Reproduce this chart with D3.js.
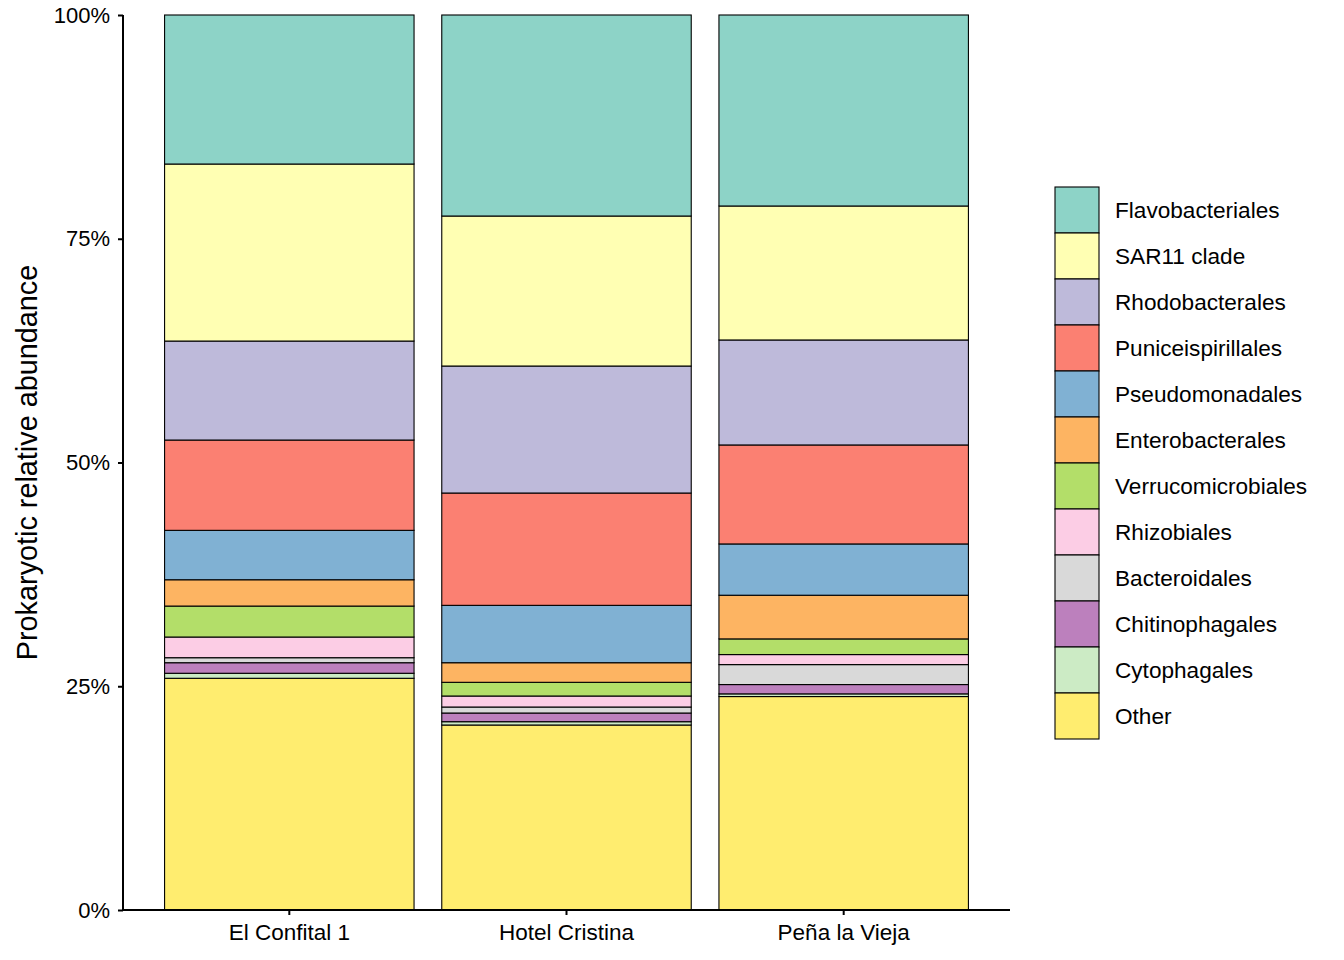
<!DOCTYPE html>
<html>
<head>
<meta charset="utf-8">
<script src="https://cdn.jsdelivr.net/npm/d3@7"></script>
<style>
  body { margin: 0; background: #fff; }
  text { font-family: "Liberation Sans", Arial, Helvetica, sans-serif; fill: #000; }
</style>
</head>
<body>
<div id="chart"></div>
<script>
// sample sites
var sites = ["El Confital 1", "Hotel Cristina", "Peña la Vieja"];

// taxa in legend order (top of stack first)
var taxa = ["Flavobacteriales", "SAR11 clade", "Rhodobacterales", "Puniceispirillales",
    "Pseudomonadales", "Enterobacterales", "Verrucomicrobiales", "Rhizobiales",
    "Bacteroidales", "Chitinophagales", "Cytophagales", "Other"];

// relative abundance (%) per site, same order as taxa
var elConfital = [16.65, 19.78, 11.06, 10.09, 5.52, 2.94, 3.46, 2.31, 0.56, 1.18, 0.56, 25.89];
var hotelCristina = [22.46, 16.76, 14.19, 12.55, 6.41, 2.19, 1.53, 1.23, 0.67, 0.97, 0.37, 20.67];
var penaVieja = [21.34, 14.97, 11.73, 11.06, 5.73, 4.88, 1.75, 1.12, 2.23, 1.04, 0.30, 23.85];

var yTicks = [0, 25, 50, 75, 100];

var colors = ["#8DD3C7", "#FFFFB3", "#BEBADA", "#FB8072", "#80B1D3", "#FDB462",
    "#B3DE69", "#FCCDE5", "#D9D9D9", "#BC80BD", "#CCEBC5", "#FFED6F"];

(function () {
    var margin = { top: 15, right: 334, bottom: 50, left: 123 },
        width = 1344 - margin.left - margin.right,
        height = 960 - margin.top - margin.bottom;

    var svg = d3.select("#chart")
        .append("svg")
        .attr("width", 1344)
        .attr("height", 960)
        .append("g")
        .attr("transform", "translate(" + margin.left + "," + margin.top + ")");

    // build table for stacking
    var values = [elConfital, hotelCristina, penaVieja];
    var table = sites.map(function (s, i) {
        var row = { site: s };
        taxa.forEach(function (t, j) { row[t] = values[i][j]; });
        return row;
    });

    // stack from bottom: Other first
    var stackKeys = taxa.slice().reverse();
    var series = d3.stack().keys(stackKeys)(table);

    var color = d3.scaleOrdinal().domain(taxa).range(colors);

    var x = d3.scaleBand()
        .domain(sites)
        .range([0, width])
        .paddingInner(0.1)
        .paddingOuter(0.15);

    var y = d3.scaleLinear()
        .domain([0, 100])
        .range([height, 0]);

    // bars
    svg.selectAll("g.layer")
        .data(series)
        .enter()
        .append("g")
        .attr("class", "layer")
        .attr("fill", function (d) { return color(d.key); })
        .selectAll("rect")
        .data(function (d) { return d; })
        .enter()
        .append("rect")
        .attr("x", function (d) { return x(d.data.site); })
        .attr("width", x.bandwidth())
        .attr("y", function (d) { return y(d[1]); })
        .attr("height", function (d) { return y(d[0]) - y(d[1]); })
        .attr("stroke", "#000")
        .attr("stroke-width", 1.1);

    // Y axis
    var yAxis = svg.append("g")
        .call(d3.axisLeft(y).tickValues(yTicks)
            .tickFormat(function (d) { return d + "%"; })
            .tickSize(5).tickPadding(8));
    yAxis.select(".domain").attr("stroke-width", 2).attr("d", "M0," + height + "V0");
    yAxis.selectAll(".tick line").attr("stroke-width", 2);
    yAxis.selectAll("text").style("font-size", "22px");

    // X axis
    var xAxis = svg.append("g")
        .attr("transform", "translate(0," + height + ")")
        .call(d3.axisBottom(x).tickSize(5).tickPadding(9));
    xAxis.select(".domain").attr("stroke-width", 2).attr("d", "M0,0H" + width);
    xAxis.selectAll(".tick line").attr("stroke-width", 2);
    xAxis.selectAll("text").style("font-size", "22.5px");

    // Y axis title
    svg.append("text")
        .attr("transform", "rotate(-90)")
        .attr("x", -height / 2)
        .attr("y", -margin.left + 37)
        .attr("text-anchor", "middle")
        .style("font-size", "28.8px")
        .text("Prokaryotic relative abundance");

    // legend
    var keyH = 46, keyW = 44;
    var legend = svg.append("g")
        .attr("transform", "translate(" + (1055 - margin.left) + "," + (187 - margin.top) + ")");

    var item = legend.selectAll("g")
        .data(taxa)
        .enter()
        .append("g")
        .attr("transform", function (d, i) { return "translate(0," + i * keyH + ")"; });

    item.append("rect")
        .attr("width", keyW)
        .attr("height", keyH)
        .attr("fill", function (d) { return color(d); })
        .attr("stroke", "#000")
        .attr("stroke-width", 1.1);

    item.append("text")
        .attr("x", 60)
        .attr("y", keyH / 2)
        .attr("dy", "0.35em")
        .style("font-size", "22.6px")
        .text(function (d) { return d; });
})();
</script>
</body>
</html>
